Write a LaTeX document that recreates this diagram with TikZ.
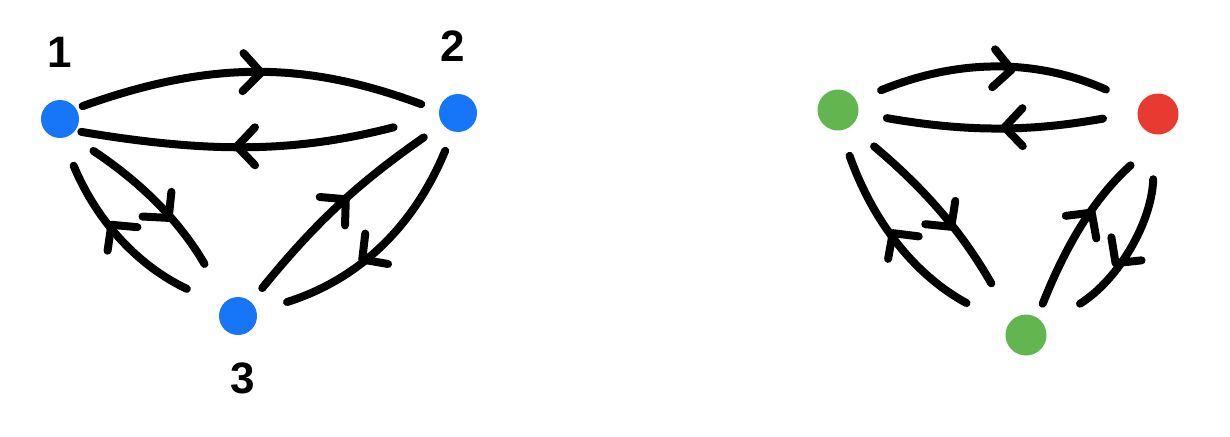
\documentclass[tikz,border=0pt]{standalone}
\usepackage{fontspec}
\setmainfont{Liberation Sans}
\usetikzlibrary{arrows.meta,positioning,decorations.markings}
\definecolor{colazul}{HTML}{1775F7}
\definecolor{colverde}{HTML}{63B64F}
\definecolor{colrojo}{HTML}{E83A30}

\begin{document}
\begin{tikzpicture}[x=1pt, y=-1pt, line width=8pt, line cap=round,
    vertice/.style={circle, inner sep=0pt, minimum size=38pt},
    azul/.style={vertice, fill=colazul},
    verde/.style={vertice, fill=colverde, minimum size=41pt},
    rojo/.style={vertice, fill=colrojo, minimum size=41pt},
    etiqueta/.style={font=\fontsize{44}{44}\selectfont\bfseries, inner sep=0pt},
    arco/.style={postaction={decorate}, decoration={markings,
      mark=at position #1 with {\arrow{Straight Barb[length=18pt, width=38pt, round]}}}},
    arco/.default=0.5]
      \useasboundingbox (0,0) rectangle (1230,436);
      % grafo de la izquierda
      \node[azul] (v1) at (60,119) {};
      \node[azul] (v2) at (458,113) {};
      \node[azul] (v3) at (238,316) {};
      \node[etiqueta, above=25pt of v1] (l1) {1};
      \node[etiqueta, above=25pt of v2, xshift=-5pt] (l2) {2};
      \node[etiqueta, below=20pt of v3, xshift=5pt] (l3) {3};
      \draw[arco=0.52, shorten <=3pt, shorten >=15pt] (v1.31) to[bend left=20] (v2.171);
      \draw[arco=0.57, shorten <=43pt, shorten >=2pt] (v2.189) to[bend left=12] (v1.-33);
      \draw[arco=0.58, shorten <=24pt, shorten >=39pt] (v1.-54) to[bend left=13] (v3.127);
      \draw[arco=0.60, shorten <=35pt, shorten >=26pt] (v3.148) to[bend left=21] (v1.-81);
      \draw[arco=0.55, shorten <=14pt, shorten >=19pt] (v3.48) to[bend left=8] (v2.216);
      \draw[arco=0.59, shorten <=17pt, shorten >=28pt] (v2.-106) to[bend left=25] (v3.14);
      % grafo coloreado
      \node[verde] (w1) at (838,110) {};
      \node[rojo] (w2) at (1158,114) {};
      \node[verde] (w3) at (1026,335) {};
      \draw[arco=0.56, shorten <=23pt, shorten >=33pt] (w1.27) to[bend left=23] (w2.153);
      \draw[arco=0.49, shorten <=31pt, shorten >=25pt] (w2.178) to[bend left=10] (w1.-9);
      \draw[arco=0.58, shorten <=27pt, shorten >=38pt] (w1.-51) to[bend left=10] (w3.130);
      \draw[arco=0.58, shorten <=43pt, shorten >=23pt] (w3.152) to[bend left=21] (w1.-81);
      \draw[arco=0.55, shorten <=11pt, shorten >=40pt] (w3.59) to[bend left=13] (w2.-85);
      \draw[arco=0.61, shorten <=41pt, shorten >=38pt] (w2.-98) to[bend left=28] (w3.27);
    \end{tikzpicture}
\end{document}
